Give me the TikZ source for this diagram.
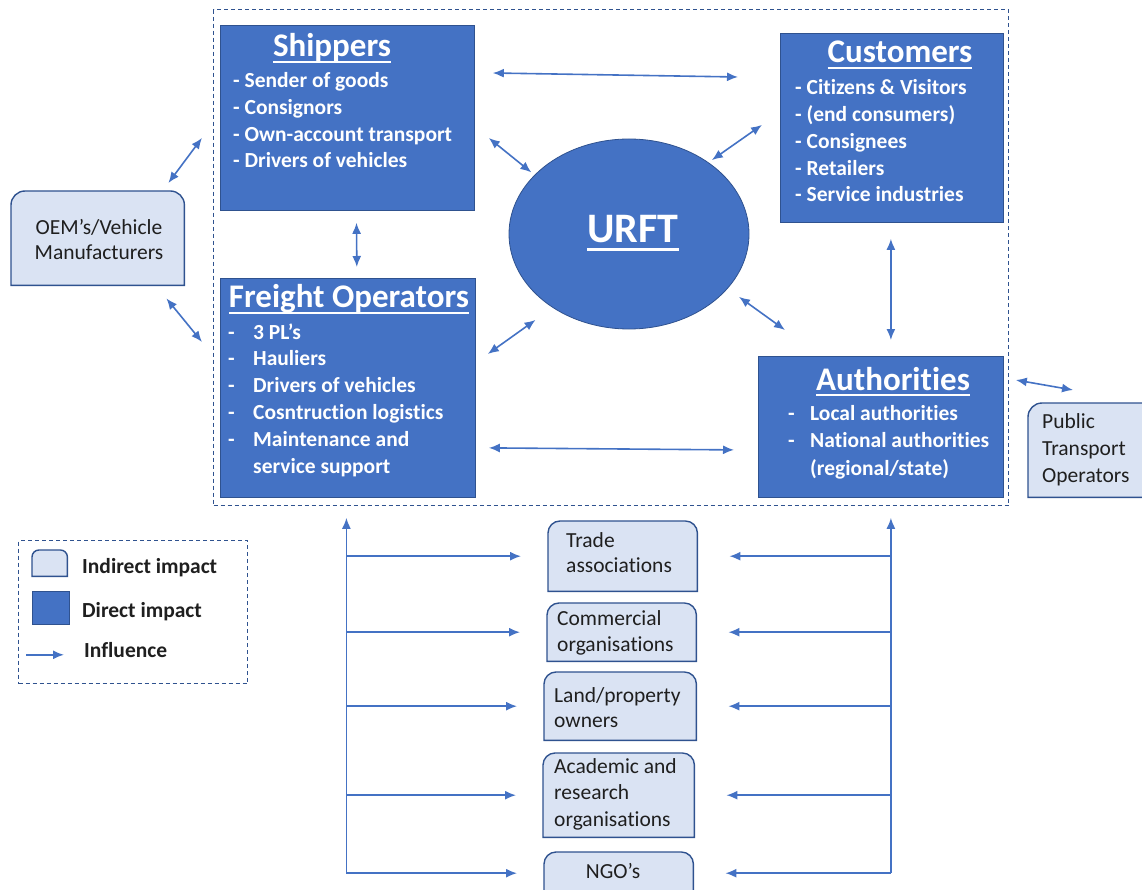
\documentclass[tikz,border=0pt]{standalone}
\usepackage{fontspec}
\setmainfont[Ligatures=NoCommon]{Carlito}
\usetikzlibrary{arrows.meta, positioning, shapes.geometric, calc}

\definecolor{dirblue}{HTML}{4472C4}
\definecolor{dirline}{HTML}{2F528F}
\definecolor{indfill}{HTML}{DAE3F3}
\definecolor{txtgrey}{HTML}{1F1F1F}

\newcommand{\ttlul}[1]{\setbox0=\hbox{#1}\rlap{\copy0}\rule[-0.19em]{\wd0}{0.07em}}
\newcommand{\dsh}[1]{\makebox[#1][l]{-}}

\tikzset{
  direct/.style={draw=dirline, fill=dirblue, line width=0.8pt, anchor=north west, inner sep=0pt},
  indirect/.style={anchor=north west, inner sep=0pt},
  indline/.style={draw=dirline, fill=indfill, line width=1.4pt},
  ttl/.style={anchor=base, text=white, font=\fontsize{33}{40}\selectfont\bfseries, inner sep=0pt},
  items/.style={anchor=base west, text=white, align=left, font=\fontsize{21.5}{26.8}\selectfont\bfseries, inner sep=0pt},
  plain/.style={anchor=base west, text=txtgrey, align=left, font=\fontsize{21.5}{26}\selectfont, inner sep=0pt},
  link/.style={color=dirblue, line width=1.6pt, >={Latex[length=11pt,width=9pt]}},
  frame/.style={draw=dirline, dash pattern=on 4pt off 3pt, line width=1.3pt, anchor=north west, inner sep=0pt},
}

\begin{document}
\begin{tikzpicture}[x=1pt, y=-1pt]
    \useasboundingbox (0,0) rectangle (1142,890);

    % Frame round the direct stakeholders
    \node[frame, minimum width=795, minimum height=496] (frame) at (213,9) {};

    % Direct impact (text nodes sit on the baseline of their last line)
    \node[direct, minimum width=254, minimum height=185] (shp) at (220,25) {};
    \node[direct, minimum width=223, minimum height=189] (cus) at (780,33) {};
    \node[direct, minimum width=255, minimum height=219] (frt) at (220,278) {};
    \node[direct, minimum width=245, minimum height=141] (aut) at (758,356) {};
    \node[ellipse, draw=dirline, fill=dirblue, line width=0.8pt, minimum width=240, minimum height=190, inner sep=0pt] (urft) at (629,234) {};

    \node[ttl] (shpttl) at (332,57) {\ttlul{Shippers}};
    \node[ttl] (custtl) at (900,63) {\ttlul{Customers}};
    \node[ttl] (frtttl) at (349,308) {\ttlul{Freight Operators}};
    \node[ttl] (autttl) at (893,390) {\ttlul{Authorities}};
    \node[ttl, font=\fontsize{42}{50}\selectfont\bfseries] (urftttl) at (633,243) {\ttlul{URFT}};

    \node[items] (shplst) at (233,168) {- Sender of goods\\- Consignors\\- Own-account transport\\- Drivers of vehicles};
    \node[items] (cuslst) at (795,202) {- Citizens \& Visitors\\- (end consumers)\\- Consignees\\- Retailers\\- Service industries};
    \node[items] (frtlst) at (228,473) {\dsh{25pt}3 PL’s\\\dsh{25pt}Hauliers\\\dsh{25pt}Drivers of vehicles\\\dsh{25pt}Cosntruction logistics\\\dsh{25pt}Maintenance and\\\hspace*{25pt}service support};
    \node[items, font=\fontsize{21.5}{27.5}\selectfont\bfseries] (autlst) at (788,475) {\dsh{22pt}Local authorities\\\dsh{22pt}National authorities\\\hspace*{22pt}(regional/state)};

    % Indirect impact
    \node[indirect, minimum width=173, minimum height=94] (oem) at (11,191) {};
    \node[indirect, minimum width=130, minimum height=94] (pto) at (1028,403) {};
    \node[indirect, minimum width=149, minimum height=70] (trade) at (548,521) {};
    \node[indirect, minimum width=149, minimum height=58] (comm) at (547,603) {};
    \node[indirect, minimum width=152, minimum height=68] (land) at (544,672) {};
    \node[indirect, minimum width=151, minimum height=84] (acad) at (543,753) {};
    \node[indirect, minimum width=149, minimum height=42] (ngo) at (544,852) {};

    % Legend
    \node[frame, minimum width=229, minimum height=143] (legend) at (18,540) {};
    \node[indirect, minimum width=35, minimum height=26] (legind) at (32,550) {};
    \node[direct, minimum width=37, minimum height=33] (legdir) at (32,591) {};

    \foreach \n/\r in {oem/14, pto/14, trade/12, comm/12, land/12, acad/12, ngo/12, legind/7}
        \draw[indline] (\n.south west) [rounded corners=\r pt] -- (\n.north west) -- (\n.north east) [sharp corners] -- (\n.south east) -- cycle;

    \node[plain, align=center, anchor=base, font=\fontsize{21.5}{25}\selectfont] (oemtxt) at (99,260) {OEM’s/Vehicle\\Manufacturers};
    \node[plain, font=\fontsize{21.5}{27}\selectfont] (ptotxt) at (1042,482) {Public\\Transport\\Operators};
    \node[plain, font=\fontsize{21.5}{25}\selectfont] (tradetxt) at (566,572) {Trade\\associations};
    \node[plain] (commtxt) at (557,651) {Commercial\\organisations};
    \node[plain, font=\fontsize{21.5}{25}\selectfont] (landtxt) at (554,727) {Land/property\\owners};
    \node[plain, font=\fontsize{21.5}{26.5}\selectfont] (acadtxt) at (554,826) {Academic and\\research\\organisations};
    \node[plain, anchor=base] (ngotxt) at (613,878) {NGO’s};

    \node[plain, font=\fontsize{21.5}{26}\selectfont\bfseries] (legindtxt) at (82,573) {Indirect impact};
    \node[plain, font=\fontsize{21.5}{26}\selectfont\bfseries] (legdirtxt) at (82,617) {Direct impact};
    \node[plain, font=\fontsize{21.5}{26}\selectfont\bfseries] (legarrtxt) at (84,657) {Influence};

    % Influence
    \begin{scope}[link]
        \draw[->] ([xshift=-6pt,yshift=-30pt]legdir.south west) -- ++(38,0);

        \draw[<->] ([xshift=18pt,yshift=-48pt]shp.north east) -- ([xshift=-42pt,yshift=-44pt]cus.north west);
        \draw[<->, shorten >=4pt] ([xshift=14pt,yshift=-113pt]shp.north east) -- (urft.148);
        \draw[<->, shorten <=4pt] (urft.42) -- ([xshift=-18pt,yshift=3pt]cus.west);
        \draw[<->, shorten <=12pt, shorten >=11pt] ([xshift=9pt]shp.south) -- ([xshift=9pt]frt.north);
        \draw[<->] ([xshift=-16pt,yshift=8pt]oem.north east) -- ([xshift=-18pt,yshift=-20pt]shp.west);
        \draw[<->] ([xshift=-18pt,yshift=-13pt]oem.south east) -- ([xshift=-18pt,yshift=-64pt]frt.north west);
        \draw[<->, shorten >=21pt] ([xshift=12pt,yshift=-76pt]frt.north east) -- (urft.224);
        \draw[<->, shorten <=14pt] (urft.-29) -- ([xshift=27pt,yshift=26pt]aut.north west);
        \draw[<->] ([xshift=-1pt,yshift=-16pt]cus.south) -- ([xshift=10pt,yshift=16pt]aut.north);
        \draw[<->] ([xshift=13pt,yshift=-60pt]frt.east) -- ([xshift=-24pt,yshift=-23pt]aut.west);
        \draw[<->] ([xshift=12pt,yshift=-24pt]aut.north east) -- ([xshift=45pt,yshift=13pt]pto.north west);

        \coordinate (lbus) at ([xshift=-1.5pt,yshift=-20pt]frt.south);
        \coordinate (rbus) at ([xshift=10pt,yshift=-20pt]aut.south);
        \draw[->] (ngo.west -| lbus) -- (lbus);
        \draw[->] (ngo.east -| rbus) -- (rbus);
        \foreach \n in {trade, comm, land, acad, ngo} {
            \draw[->] (\n.west -| lbus) -- ([xshift=-27pt]\n.west);
            \draw[->] (\n.east -| rbus) -- ([xshift=32pt]\n.east);
        }
    \end{scope}
\end{tikzpicture}
\end{document}
